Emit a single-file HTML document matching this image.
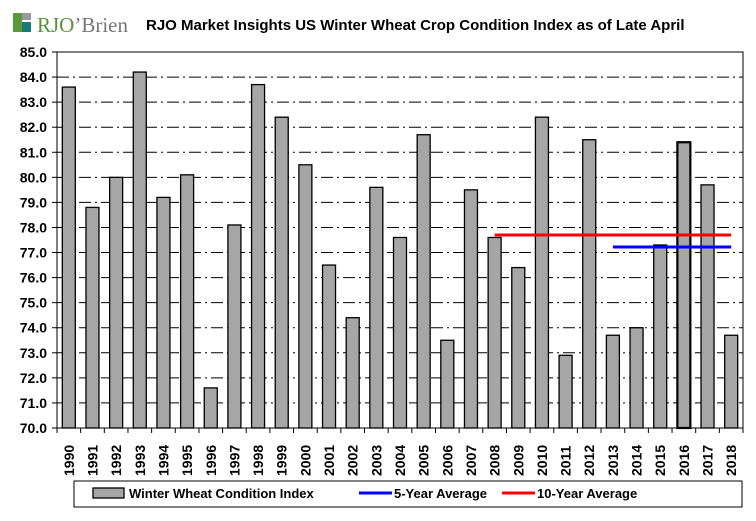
<!DOCTYPE html>
<html><head><meta charset="utf-8"><style>
body{margin:0;background:#fff;width:756px;height:516px;overflow:hidden;font-family:"Liberation Sans",Arial,sans-serif}
svg text{font-family:"Liberation Sans",Arial,sans-serif;font-weight:bold}
</style></head><body>
<svg id="c" width="756" height="516">
  <g>
    <rect x="13" y="13" width="9" height="19" fill="#5a9a3c"/>
    <rect x="22" y="13" width="9" height="7" fill="#999"/>
    <rect x="22" y="22" width="9" height="10" fill="#1a7a7a"/>
    <text x="37" y="32" font-size="21" style="font-family:'Liberation Serif',serif;font-weight:normal" fill="#5a8f3c">RJO<tspan fill="#777">’Brien</tspan></text>
  </g>
  <text x="146" y="30" font-size="15" fill="#000">RJO Market Insights US Winter Wheat Crop Condition Index as of Late April</text>
  <g id="grid"></g><g id="bars"></g><g id="lines"></g><g id="axes"></g>
  <g>
    <rect x="74" y="481" width="668" height="26" fill="#fff" stroke="#000" stroke-width="1"/>
    <rect x="93" y="488" width="31" height="10" fill="#a6a6a6" stroke="#000" stroke-width="1.3"/>
    <text x="129" y="498" font-size="13">Winter Wheat Condition Index</text>
    <line x1="359" y1="493" x2="392" y2="493" stroke="#0000ff" stroke-width="3"/>
    <text x="394" y="498" font-size="13">5-Year Average</text>
    <line x1="502" y1="493" x2="535" y2="493" stroke="#ff0000" stroke-width="3"/>
    <text x="537" y="498" font-size="13">10-Year Average</text>
  </g>
</svg>
<script>
const years=["1990","1991","1992","1993","1994","1995","1996","1997","1998","1999","2000","2001","2002","2003","2004","2005","2006","2007","2008","2009","2010","2011","2012","2013","2014","2015","2016","2017","2018"];
const values=[83.6,78.8,80.0,84.2,79.2,80.1,71.6,78.1,83.7,82.4,80.5,76.5,74.4,79.6,77.6,81.7,73.5,79.5,77.6,76.4,82.4,72.9,81.5,73.7,74.0,77.3,81.4,79.7,73.7];
const yTicks=[70,71,72,73,74,75,76,77,78,79,80,81,82,83,84,85];
const avg5=77.22, avg5Start="2013", avg10=77.7, avg10Start="2008";
const L=57,R=743,T=52,B=428,yMin=70,yMax=85;
const ns="http://www.w3.org/2000/svg";
const bw=(R-L)/years.length;
const y=v=>B-(v-yMin)/(yMax-yMin)*(B-T);
const xc=i=>L+(i+0.5)*bw;
function mk(t,a,p){const e=document.createElementNS(ns,t);for(const k in a)e.setAttribute(k,a[k]);p.appendChild(e);return e;}
const G=document.getElementById('grid'),BA=document.getElementById('bars'),LI=document.getElementById('lines'),AX=document.getElementById('axes');
yTicks.forEach(v=>{
  if(v>yMin&&v<yMax){const g=mk('line',{x1:L,x2:R,y1:y(v),y2:y(v),stroke:'#000','stroke-width':1,'stroke-dasharray':'12,4,2,4'},G);
  
  }
  mk('line',{x1:L-5,x2:L,y1:y(v),y2:y(v),stroke:'#000'},AX);
  const t=mk('text',{x:L-10,y:y(v)+5,'text-anchor':'end','font-size':14},AX);t.textContent=v.toFixed(1);
  
  
});
mk('rect',{x:L,y:T,width:R-L,height:B-T,fill:'none',stroke:'#000','stroke-width':1},AX);
values.forEach((v,i)=>{
  const r=mk('rect',{x:xc(i)-6.5,y:y(v),width:13,height:B-y(v),fill:'#a6a6a6',stroke:'#000','stroke-width':years[i]==="2016"?2.2:1.3},BA);
  
  
  mk('line',{x1:L+i*bw,x2:L+i*bw,y1:B,y2:B+5,stroke:'#000'},AX);
  const t=mk('text',{transform:`translate(${xc(i)+5},${B+48}) rotate(-90)`,'font-size':14},AX);t.textContent=years[i];
  
  
});
mk('line',{x1:R,x2:R,y1:B,y2:B+5,stroke:'#000'},AX);
const l10=mk('line',{x1:xc(years.indexOf(avg10Start)),x2:xc(years.length-1),y1:y(avg10),y2:y(avg10),stroke:'#ff0000','stroke-width':3},LI);


const l5=mk('line',{x1:xc(years.indexOf(avg5Start)),x2:xc(years.length-1),y1:y(avg5),y2:y(avg5),stroke:'#0000ff','stroke-width':3},LI);


</script>
</body></html>
